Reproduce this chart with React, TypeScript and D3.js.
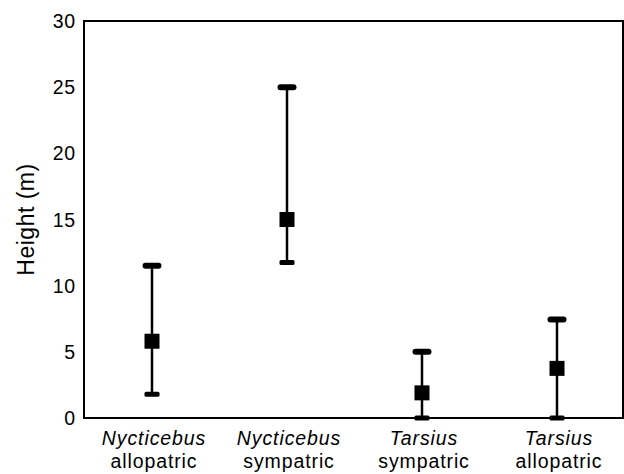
import React from "react";
import * as d3 from "d3";

const genera = ["Nycticebus", "Nycticebus", "Tarsius", "Tarsius"];
const conditions = ["allopatric", "sympatric", "sympatric", "allopatric"];
const means = [5.8, 15.0, 1.9, 3.75];
const upper = [11.5, 25.0, 5.0, 7.45];
const lower = [1.8, 11.75, 0, 0];
const yTicks = [0, 5, 10, 15, 20, 25, 30];

const W = 624;
const H = 474;
const left = 84;
const right = 623;
const top = 21;
const bottom = 418;
const FONT = "'Liberation Sans', Arial, Helvetica, sans-serif";

export default function App() {
  const keys = genera.map((_, i) => String(i));
  const x = d3.scalePoint<string>().domain(keys).range([152, 557]);
  const y = d3.scaleLinear().domain([0, 30]).range([bottom, top]);

  return (
    <svg
      width={W}
      height={H}
      style={{ position: "absolute", left: 0, top: 0, background: "#fff" }}
      fontFamily={FONT}
    >
      <rect x={0} y={0} width={W} height={H} fill="#fff" />
      {/* frame */}
      <rect
        x={left}
        y={top}
        width={right - left}
        height={bottom - top}
        fill="none"
        stroke="#000"
        strokeWidth={2}
      />
      {/* y tick labels */}
      {yTicks.map((t) => (
        <text
          key={t}
          x={76}
          y={y(t)}
          textAnchor="end"
          dominantBaseline="central"
          fontSize={19.5}
          letterSpacing={0.8}
          fill="#000"
        >
          {t}
        </text>
      ))}
      {/* y axis label */}
      <text
        transform={`translate(26,${(top + bottom) / 2}) rotate(-90)`}
        textAnchor="middle"
        dominantBaseline="central"
        fontSize={23}
        letterSpacing={0.5}
        fill="#000"
      >
        Height (m)
      </text>
      {/* error bars */}
      {keys.map((k, i) => {
        const cx = x(k)!;
        return (
          <g key={k}>
            <line
              x1={cx}
              x2={cx}
              y1={y(upper[i])}
              y2={y(lower[i])}
              stroke="#000"
              strokeWidth={2.5}
            />
            <rect
              x={cx - 9.5}
              y={y(upper[i]) - 3}
              width={19}
              height={6}
              rx={3}
              fill="#000"
            />
            <rect
              x={cx - 7.5}
              y={y(lower[i]) - 2.5}
              width={15}
              height={5}
              rx={1.5}
              fill="#000"
            />
            <rect
              x={cx - 7.5}
              y={y(means[i]) - 7.5}
              width={15}
              height={15}
              fill="#000"
            />
          </g>
        );
      })}
      {/* x labels */}
      {keys.map((k, i) => {
        const cx = x(k)! + 2;
        return (
          <g key={"l" + k}>
            <text
              x={cx}
              y={445}
              textAnchor="middle"
              fontSize={19.5}
              fontStyle="italic"
              letterSpacing={0.9}
              fill="#000"
            >
              {genera[i]}
            </text>
            <text
              x={cx}
              y={468}
              textAnchor="middle"
              fontSize={19.5}
              letterSpacing={0.9}
              fill="#000"
            >
              {conditions[i]}
            </text>
          </g>
        );
      })}
    </svg>
  );
}
